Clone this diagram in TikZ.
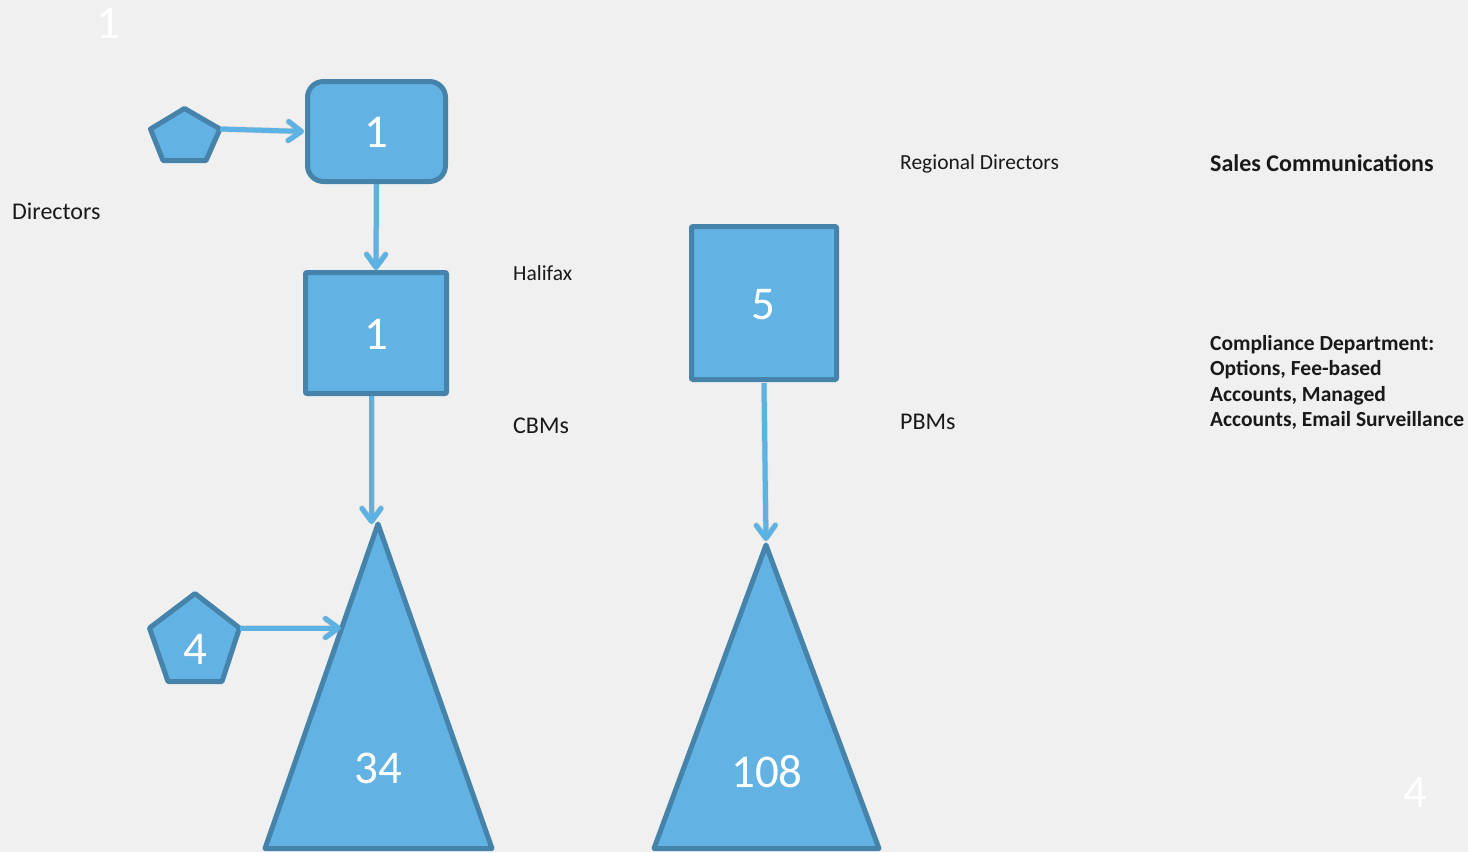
\documentclass[tikz,border=0pt]{standalone}
\usepackage{fontspec}
\setmainfont{Carlito}
\usetikzlibrary{arrows.meta}
\definecolor{bgc}{HTML}{EFF0EF}
\definecolor{fillc}{HTML}{62B3E4}
\definecolor{edgec}{HTML}{4683AB}
\definecolor{arrc}{HTML}{5CB2E2}
\tikzset{
  shapestyle/.style={fill=fillc, draw=edgec, line width=5pt, line join=round},
  boxnode/.style={shapestyle, inner sep=0pt},
  conn/.style={draw=arrc, line width=5pt, -{Straight Barb[length=13pt,width=19pt,round]}},
  connshadow/.style={draw=black!50, opacity=0.22, line width=6pt, -{Straight Barb[length=13pt,width=19pt,round]}},
  num/.style={text=white, font=\fontsize{47}{50}\selectfont, anchor=base, inner sep=0pt},
  lbl/.style={text=black!90, anchor=base west, inner sep=0pt, font=\fontsize{21.5}{26}\selectfont},
  lblb/.style={text=black!90, anchor=base west, inner sep=0pt, font=\fontsize{24}{28}\selectfont},
  bold/.style={text=black!90, anchor=base west, inner sep=0pt, font=\bfseries\fontsize{24}{28}\selectfont},
  boldsmall/.style={text=black!90, anchor=north west, inner sep=0pt, align=left, font=\bfseries\fontsize{21.5}{25.2}\selectfont},
}
\begin{document}
\begin{tikzpicture}[x=1pt,y=-1pt]
\fill[bgc] (0,0) rectangle (1468,852);
\useasboundingbox (0,0) rectangle (1468,852);

% corner numbers
\node[num] (tl) at (108,38) {1};
\node[num] (br) at (1415,807) {4};

% boxes
\node[boxnode, rounded corners=16pt, minimum width=138pt, minimum height=100pt] (b1) at (376.5,131.5) {};
\node[num] (b1t) at (376,147) {1};
\node[boxnode, rounded corners=1pt, minimum width=141pt, minimum height=121pt] (b2) at (376,333) {};
\node[num] (b2t) at (376,349) {1};
\node[boxnode, rounded corners=1pt, minimum width=145pt, minimum height=153pt] (b5) at (764,303) {};
\node[num] (b5t) at (763.5,319) {5};

% pentagon 1
\coordinate (p1top) at (184.5,108.5);
\coordinate (p1r) at (220,129);
\coordinate (p1br) at (206,160.5);
\coordinate (p1bl) at (163,160.5);
\coordinate (p1l) at (150.5,129);
\path[shapestyle] (p1top) -- (p1r) -- (p1br) -- (p1bl) -- (p1l) -- cycle;

% pentagon 2
\coordinate (p2top) at (195,593.5);
\coordinate (p2r) at (239.5,628);
\coordinate (p2br) at (222,681.5);
\coordinate (p2bl) at (168,681.5);
\coordinate (p2l) at (149.5,628);
\path[shapestyle] (p2top) -- (p2r) -- (p2br) -- (p2bl) -- (p2l) -- cycle;
\node[num] (p2t) at (195,664) {4};

% triangle 1
\coordinate (t1a) at (378,524);
\coordinate (t1r) at (492,848.5);
\coordinate (t1l) at (265,848.5);
\path[shapestyle] (t1a) -- (t1r) -- (t1l) -- cycle;
\node[num] (t1t) at (378,783) {34};

% triangle 2
\coordinate (t2a) at (766,545);
\coordinate (t2r) at (879,848.5);
\coordinate (t2l) at (654,848.5);
\path[shapestyle] (t2a) -- (t2r) -- (t2l) -- cycle;
\node[num] (t2t) at (767,787) {108};

% connector end points
\coordinate (b2out) at (371.5,396);
\coordinate (t1in) at (371.5,524);
\coordinate (b5out) at (764,383);
\coordinate (t2in) at (766,541);
\coordinate (t1side) at (341,628);
\coordinate (b1top) at (376,270);

% shadows
\begin{scope}[shift={(1.5,2)}]
\draw[connshadow] (p1r) -- ([xshift=-1pt]b1.west);
\draw[connshadow] (b1.south) -- (b1top);
\draw[connshadow] (b2out) -- (t1in);
\draw[connshadow] (b5out) -- (t2in);
\draw[connshadow] (p2r) -- (t1side);
\end{scope}

% connectors
\draw[conn] (p1r) -- ([xshift=-1pt]b1.west);
\draw[conn] (b1.south) -- (b1top);
\draw[conn] (b2out) -- (t1in);
\draw[conn] (b5out) -- (t2in);
\draw[conn] (p2r) -- (t1side);

% labels
\node[lblb] (dir) at (12,219) {Directors};
\node[lbl] (hal) at (513,280) {Halifax};
\node[lblb] (cbm) at (513,433) {CBMs};
\node[lbl] (rd) at (900,169) {Regional Directors};
\node[lblb] (pbm) at (900,429) {PBMs};
\node[bold] (sc) at (1210,171.5) {Sales Communications};
\node[boldsmall] (cd) at (1210,335.5) {Compliance Department:\\Options, Fee-based\\Accounts, Managed\\Accounts, Email Surveillance};
\end{tikzpicture}
\end{document}
